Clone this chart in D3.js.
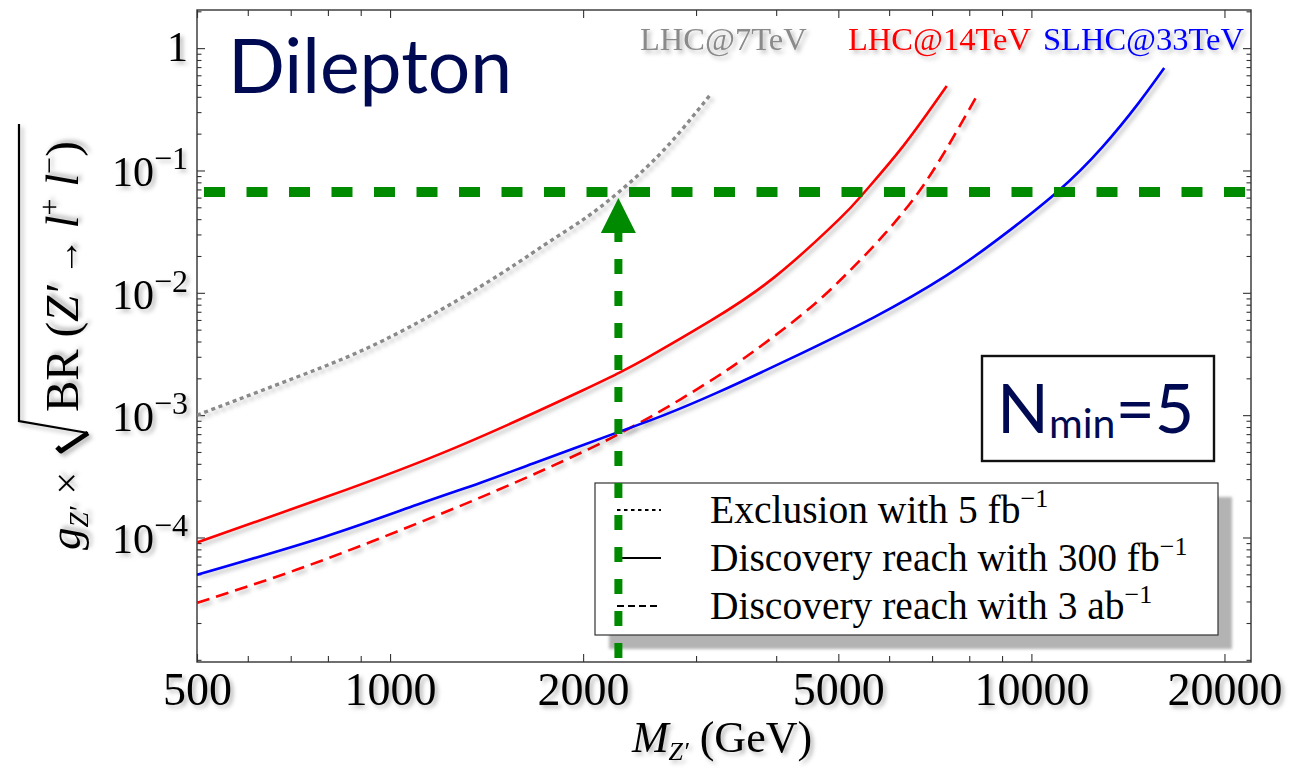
<!DOCTYPE html>
<html>
<head>
<meta charset="utf-8">
<script src="https://cdn.jsdelivr.net/npm/d3@7"></script>
<style>
  html, body { margin: 0; padding: 0; background: #fff; }
  svg { display: block; }
</style>
</head>
<body>
<svg id="chart" width="1290" height="768"></svg>
<script>
// Z' dilepton reach: g_Z' x sqrt(BR) versus Z' mass, log-log.

const massTicks = [500, 1000, 2000, 5000, 10000, 20000];
const couplingTicks = [1e-4, 1e-3, 1e-2, 1e-1, 1];

// LHC 7 TeV, exclusion with 5 fb^-1 (grey dotted)
const lhc7Mass = [500, 716, 978, 1381, 1738, 2005, 2274, 2672, 3150];
const lhc7Exclusion = [1.0e-3, 2.05e-3, 4.1e-3, 1.12e-2, 2.45e-2, 4.0e-2, 6.67e-2, 0.147, 0.41];

// LHC 14 TeV, discovery with 300 fb^-1 (red solid)
const lhc14Mass300 = [500, 794, 1259, 1995, 2275, 2512, 3162, 3981, 5012, 5495, 6310, 7379];
const lhc14Discovery300 = [9.1e-5, 2.14e-4, 5.38e-4, 1.59e-3, 2.22e-3, 2.93e-3, 5.92e-3, 1.35e-2, 3.98e-2, 6.67e-2, 0.158, 0.49];

// LHC 14 TeV, discovery with 3 ab^-1 (red dashed)
const lhc14Mass3000 = [500, 716, 1026, 1469, 1977, 2275, 2673, 3228, 3673, 4426, 5152, 5929, 6668, 7345, 8260];
const lhc14Discovery3000 = [2.92e-5, 5.47e-5, 1.12e-4, 2.43e-4, 4.88e-4, 7.03e-4, 1.12e-3, 2.05e-3, 3.27e-3, 6.89e-3, 1.43e-2, 3.10e-2, 6.65e-2, 0.1455, 0.424];

// SLHC 33 TeV, discovery with 300 fb^-1 (blue solid)
const slhc33Mass300 = [500, 789, 1101, 1381, 1675, 2274, 2673, 3230, 4168, 5690, 7345, 8851, 10970, 12900, 14690, 16110];
const slhc33Discovery300 = [4.95e-5, 1.01e-4, 1.85e-4, 2.79e-4, 4.05e-4, 7.3e-4, 1.0e-3, 1.52e-3, 2.83e-3, 6.34e-3, 1.37e-2, 2.72e-2, 6.67e-2, 0.155, 0.355, 0.687];

// Reference coupling (horizontal) and the mass where the 7 TeV exclusion reaches it
const referenceCoupling = 0.0667;
const referenceMass = 2270;

const colliderLabels = ["LHC@7TeV", "LHC@14TeV", "SLHC@33TeV"];
const colliderColors = ["#8a8a8a", "#ff0000", "#0000ff"];
const legendLabels = ["Exclusion with 5 fb", "Discovery reach with 300 fb", "Discovery reach with 3 ab"];
const legendDash = ["3.5 3.5", null, "7 4"];

const W = 1290, H = 768;
const plot = { left: 197, right: 1251, top: 10, bottom: 662 };
const serif = "'Liberation Serif', 'Times New Roman', serif";
const sans = "Lato, 'Open Sans', 'DejaVu Sans', sans-serif";
const navy = "#000a52";
const green = "#008a00";

const svg = d3.select("#chart");
svg.append("rect").attr("width", W).attr("height", H).attr("fill", "#fff");

const defs = svg.append("defs");
const shadow = defs.append("filter").attr("id", "shadow")
  .attr("x", "-15%").attr("y", "-40%").attr("width", "135%").attr("height", "190%");
shadow.append("feDropShadow").attr("dx", 3).attr("dy", 3)
  .attr("stdDeviation", 2.2).attr("flood-color", "#000").attr("flood-opacity", 0.28);
const blur = defs.append("filter").attr("id", "boxblur")
  .attr("x", "-5%").attr("y", "-15%").attr("width", "110%").attr("height", "130%");
blur.append("feGaussianBlur").attr("stdDeviation", 1.5);
defs.append("clipPath").attr("id", "plotclip").append("rect")
  .attr("x", plot.left).attr("y", plot.top)
  .attr("width", plot.right - plot.left).attr("height", plot.bottom - plot.top);

const x = d3.scaleLog().domain([500, 22000]).range([plot.left, plot.right]);
const y = d3.scaleLog().domain([9.6e-6, 2.05]).range([plot.bottom, plot.top]);

// ---- ticks on all four sides ----
const xAll = x.ticks();
const xMinor = xAll.filter(v => !massTicks.includes(v));
const yAll = y.ticks();
const yMinor = yAll.filter(v => !couplingTicks.some(t => Math.abs(t - v) / t < 1e-9));

function tickAxis(axisFn, scale, values, size, tx, ty) {
  const g = svg.append("g").attr("transform", `translate(${tx},${ty})`)
    .call(axisFn(scale).tickValues(values).tickSize(size).tickFormat(""));
  g.select(".domain").remove();
  g.selectAll(".tick line").attr("stroke", "#333").attr("stroke-width", 1.1);
  return g;
}
tickAxis(d3.axisBottom, x, massTicks, -8, 0, plot.bottom);
tickAxis(d3.axisBottom, x, xMinor, -6, 0, plot.bottom);
tickAxis(d3.axisTop, x, massTicks, -8, 0, plot.top);
tickAxis(d3.axisTop, x, xMinor, -6, 0, plot.top);
tickAxis(d3.axisLeft, y, couplingTicks, -8, plot.left, 0);
tickAxis(d3.axisLeft, y, yMinor, -4.5, plot.left, 0);
tickAxis(d3.axisRight, y, couplingTicks, -8, plot.right, 0);
tickAxis(d3.axisRight, y, yMinor, -4.5, plot.right, 0);

svg.append("rect")
  .attr("x", plot.left).attr("y", plot.top)
  .attr("width", plot.right - plot.left).attr("height", plot.bottom - plot.top)
  .attr("fill", "none").attr("stroke", "#333").attr("stroke-width", 1.4);

// ---- x tick labels ----
const xLab = svg.append("g").attr("transform", `translate(0,${plot.bottom})`)
  .call(d3.axisBottom(x).tickValues(massTicks).tickSize(0).tickPadding(0).tickFormat(d3.format("d")));
xLab.select(".domain").remove();
xLab.selectAll(".tick text")
  .attr("y", 43).attr("dy", null)
  .attr("font-family", serif).attr("font-size", 46).attr("fill", "#000")
  .attr("filter", "url(#shadow)");

// ---- y tick labels (powers of ten) ----
const yLab = svg.append("g");
couplingTicks.forEach(v => {
  const e = Math.round(Math.log10(v));
  const t = yLab.append("text")
    .attr("x", 188).attr("y", y(v) + (e === 0 ? 13 : 16))
    .attr("text-anchor", "end")
    .attr("font-family", serif).attr("font-size", 42).attr("fill", "#000")
    .attr("filter", "url(#shadow)");
  if (e === 0) {
    t.text("1");
  } else {
    t.append("tspan").text("10");
    t.append("tspan").attr("dy", -17).attr("font-size", 32).text("\u2212" + (-e));
  }
});

// ---- axis titles ----
const xTitle = svg.append("text")
  .attr("x", 722).attr("y", 752).attr("text-anchor", "middle")
  .attr("font-family", serif).attr("font-size", 44).attr("fill", "#000")
  .attr("filter", "url(#shadow)");
xTitle.append("tspan").attr("font-style", "italic").text("M");
xTitle.append("tspan").attr("font-style", "italic").attr("font-size", 26).attr("dy", 8).text("Z\u2032");
xTitle.append("tspan").attr("dy", -8).text(" (GeV)");

const yTitleA = svg.append("g").attr("transform", "translate(80,550) rotate(-90)")
  .append("text").attr("font-family", serif).attr("font-size", 45).attr("fill", "#000")
  .attr("filter", "url(#shadow)");
yTitleA.append("tspan").attr("font-style", "italic").text("g");
yTitleA.append("tspan").attr("font-style", "italic").attr("font-size", 27).attr("dy", 8).text("Z\u2032");
yTitleA.append("tspan").attr("dy", -8).attr("dx", 12).attr("font-size", 40).text("\u00d7");

const yTitleB = svg.append("g").attr("transform", "translate(78,412) rotate(-90)")
  .append("text").attr("font-family", serif).attr("font-size", 47).attr("fill", "#000")
  .attr("filter", "url(#shadow)");
yTitleB.append("tspan").text("BR (");
yTitleB.append("tspan").attr("font-style", "italic").text("Z\u2032");
yTitleB.append("tspan").attr("font-size", 38).text(" \u2192 ");
yTitleB.append("tspan").attr("font-style", "italic").text("l");
yTitleB.append("tspan").attr("font-size", 30).attr("dy", -19).text("+");
yTitleB.append("tspan").attr("dy", 19).text(" ");
yTitleB.append("tspan").attr("font-style", "italic").text("l");
yTitleB.append("tspan").attr("font-size", 30).attr("dy", -19).text("\u2212");
yTitleB.append("tspan").attr("dy", 19).text(")");

// radical sign around BR(...)
const radical = svg.append("g").attr("filter", "url(#shadow)").attr("fill", "none").attr("stroke", "#000");
radical.append("path").attr("d", "M19,124 L19,421 L88,433").attr("stroke-width", 2.2).attr("stroke-linejoin", "miter");
radical.append("path").attr("d", "M88,433 L61,451 L57,447").attr("stroke-width", 5).attr("stroke-linejoin", "round");

// ---- curves ----
const line = (xs) => d3.line()
  .x((d, i) => x(xs[i]))
  .y(d => y(d))
  .curve(d3.curveNatural);

const curves = svg.append("g").attr("clip-path", "url(#plotclip)");
const series = [
  { m: lhc7Mass, v: lhc7Exclusion, color: colliderColors[0], dash: "4 3.6", w: 3.4 },
  { m: lhc14Mass3000, v: lhc14Discovery3000, color: colliderColors[1], dash: "13 7", w: 2.6 },
  { m: lhc14Mass300, v: lhc14Discovery300, color: colliderColors[1], dash: null, w: 2.6 },
  { m: slhc33Mass300, v: slhc33Discovery300, color: colliderColors[2], dash: null, w: 2.6 }
];
series.forEach(s => {
  curves.append("path")
    .datum(s.v)
    .attr("d", line(s.m))
    .attr("fill", "none")
    .attr("stroke", s.color)
    .attr("stroke-width", s.w)
    .attr("stroke-dasharray", s.dash)
    .attr("filter", "url(#shadow)");
});

// ---- collider labels ----
const labelX = [640, 848, 1043];
colliderLabels.forEach((t, i) => {
  svg.append("text").attr("x", labelX[i]).attr("y", 50)
    .attr("font-family", serif).attr("font-size", 32.5).attr("fill", colliderColors[i])
    .attr("filter", "url(#shadow)").text(t);
});

// ---- "Dilepton" tag ----
svg.append("text").attr("x", 228).attr("y", 93)
  .attr("font-family", sans).attr("font-size", 75).attr("fill", navy).text("Dilepton");

// ---- N_min box ----
svg.append("rect").attr("x", 982).attr("y", 356).attr("width", 232).attr("height", 105)
  .attr("fill", "#fff").attr("stroke", "#111").attr("stroke-width", 2.4);
const nmin = svg.append("text").attr("x", 997).attr("y", 433)
  .attr("font-family", sans).attr("font-size", 68).attr("fill", navy);
nmin.append("tspan").text("N");
nmin.append("tspan").attr("font-size", 41).attr("dy", 5).text("min");
nmin.append("tspan").attr("dy", -5).text("=5");

// ---- legend ----
const lg = { x: 595, y: 483, w: 623, h: 152 };
svg.append("rect").attr("x", lg.x + 14).attr("y", lg.y + 14).attr("width", lg.w).attr("height", lg.h)
  .attr("fill", "#b3b3b3").attr("filter", "url(#boxblur)");
svg.append("rect").attr("x", lg.x).attr("y", lg.y).attr("width", lg.w).attr("height", lg.h)
  .attr("fill", "#fff").attr("stroke", "#333").attr("stroke-width", 1.2);
const rowY = [510, 558, 606];
legendLabels.forEach((t, i) => {
  svg.append("line").attr("x1", 617).attr("x2", 661).attr("y1", rowY[i]).attr("y2", rowY[i])
    .attr("stroke", "#000").attr("stroke-width", 2.2).attr("stroke-dasharray", legendDash[i]);
  const tx = svg.append("text").attr("x", 710).attr("y", rowY[i] + 13)
    .attr("font-family", serif).attr("font-size", 39.5).attr("fill", "#000");
  tx.append("tspan").text(t);
  tx.append("tspan").attr("font-size", 26).attr("dy", -16).text("\u22121");
});

// ---- reference markers (green) ----
const gy = y(referenceCoupling);
const gx = x(referenceMass);
const marks = svg.append("g").attr("clip-path", "url(#plotclip)");
marks.append("line")
  .attr("x1", plot.left).attr("x2", plot.right).attr("y1", gy).attr("y2", gy)
  .attr("stroke", green).attr("stroke-width", 10)
  .attr("stroke-dasharray", "21 21.5").attr("stroke-dashoffset", 35.5);
const tipY = gy + 6, baseY = gy + 41;
marks.append("path")
  .attr("d", `M${gx},${tipY} L${gx - 17.5},${baseY} L${gx + 17.5},${baseY} Z`)
  .attr("fill", green);
marks.append("line")
  .attr("x1", gx).attr("x2", gx).attr("y1", baseY - 1).attr("y2", y.range()[0])
  .attr("stroke", green).attr("stroke-width", 8)
  .attr("stroke-dasharray", "15 17").attr("stroke-dashoffset", 5);
</script>
</body>
</html>
